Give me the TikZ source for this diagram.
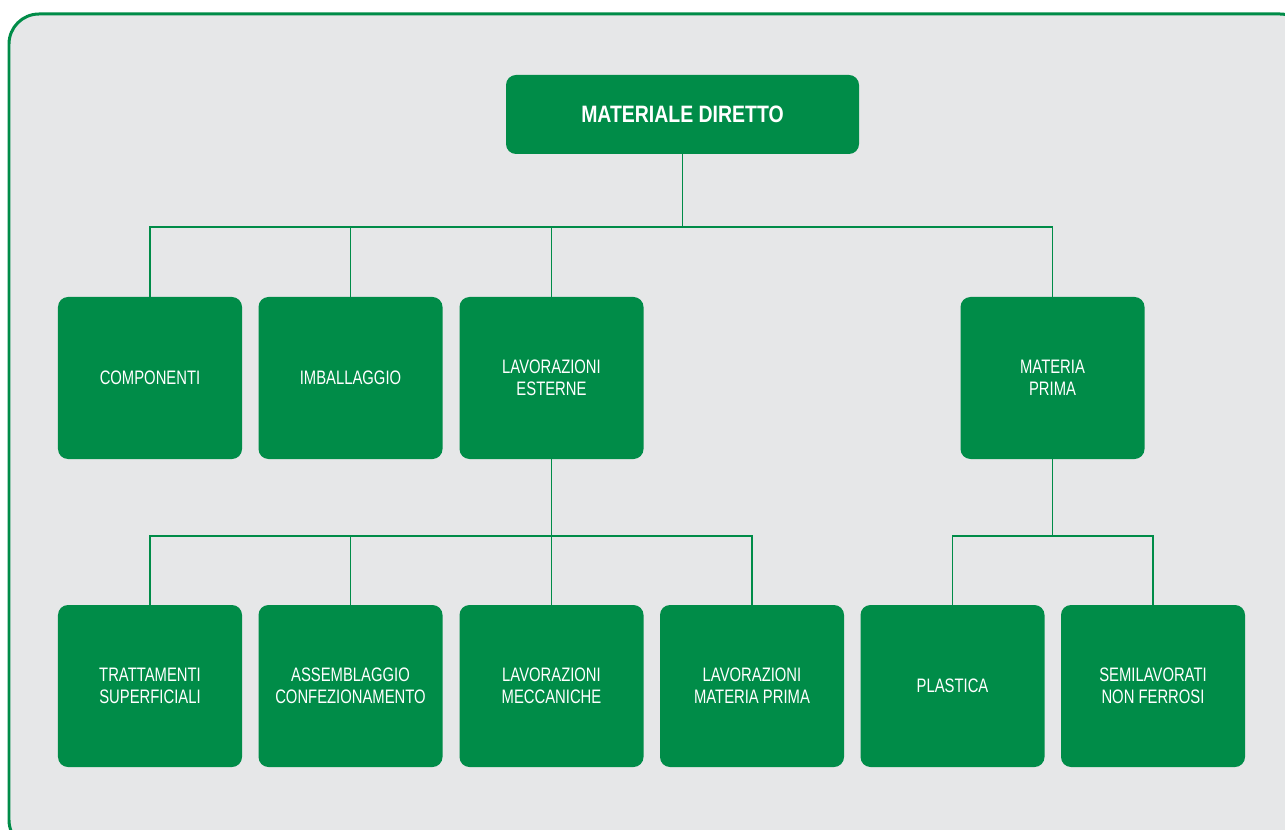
\documentclass[tikz,border=0pt]{standalone}
\usepackage{fontspec}
\setmainfont{Liberation Sans}[FakeStretch=0.76]
\newfontfamily\titlefont{Liberation Sans}[FakeStretch=0.82]
\usetikzlibrary{positioning}

\definecolor{boxgreen}{RGB}{0,140,72}
\definecolor{panelgrey}{RGB}{230,231,232}

\begin{document}
\begin{tikzpicture}[
    x=0.2mm, y=-0.2mm,
    box/.style={fill=boxgreen, rounded corners=2mm, minimum width=36.8mm, minimum height=32.4mm, align=center, text=white, font=\fontsize{11.1}{12.5}\selectfont, inner sep=0pt},
    titlebox/.style={box, minimum width=70.6mm, minimum height=15.8mm, font=\titlefont\bfseries\fontsize{13.5}{15}\selectfont},
    link/.style={draw=boxgreen, line width=1.1pt}
]
\useasboundingbox (0,0) rectangle (1285,830);
\fill[white] (0,0) rectangle (1285,830);
\draw[boxgreen, line width=1.7pt, fill=panelgrey, rounded corners=6mm] (9,14) rectangle (1310,850);

% top
\node[titlebox] (dir) at (682.5,114.5) {MATERIALE DIRETTO};

% first level
\node[box] (comp) at (150,378) {COMPONENTI};
\node[box] (imb) at (350.5,378) {IMBALLAGGIO};
\node[box] (lavest) at (551.5,378) {LAVORAZIONI\\ESTERNE};
\node[box] (matp) at (1052.5,378) {MATERIA\\PRIMA};

% second level
\node[box] (tratt) at (150,686) {TRATTAMENTI\\SUPERFICIALI};
\node[box] (assem) at (350.5,686) {ASSEMBLAGGIO\\CONFEZIONAMENTO};
\node[box] (lavmec) at (551.5,686) {LAVORAZIONI\\MECCANICHE};
\node[box] (lavmp) at (752,686) {LAVORAZIONI\\MATERIA PRIMA};
\node[box] (plast) at (952.5,686) {PLASTICA};
\node[box] (semi) at (1153,686) {SEMILAVORATI\\NON FERROSI};

% connectors
\coordinate (bus1) at (682.5,227);
\coordinate (bus2) at (551.5,536);
\coordinate (bus3) at (1052.5,536);
\draw[link] (dir.south) -- (bus1);
\foreach \n in {comp,imb,lavest,matp}
    \draw[link] (bus1) -| (\n.north);
\draw[link] (lavest.south) -- (bus2);
\foreach \n in {tratt,assem,lavmec,lavmp}
    \draw[link] (bus2) -| (\n.north);
\draw[link] (matp.south) -- (bus3);
\foreach \n in {plast,semi}
    \draw[link] (bus3) -| (\n.north);
\end{tikzpicture}
\end{document}
